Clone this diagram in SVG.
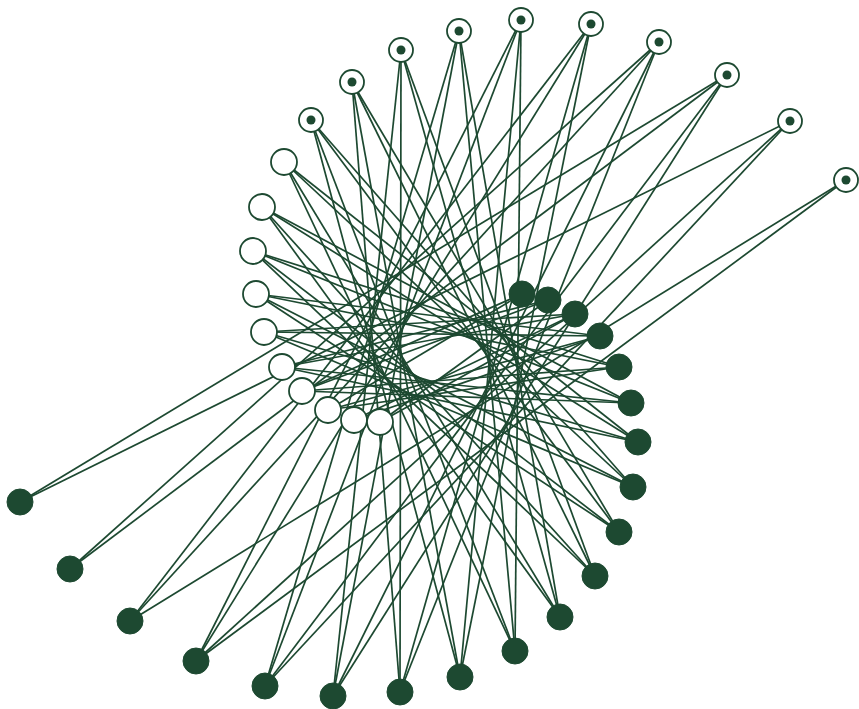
<svg xmlns="http://www.w3.org/2000/svg" width="859" height="709" viewBox="0 0 859 709">
<style>
.e line{stroke:#1d4931;stroke-width:1.7;fill:none}
.r{fill:#fff;stroke:#1d4931;stroke-width:1.8}
.w{fill:#fff;stroke:#1d4931;stroke-width:1.8}
.d{fill:#1d4931;stroke:#1d4931;stroke-width:1}
.c{fill:#1d4931}
</style>
<rect width="859" height="709" fill="#fff"/>
<g id="edges" class="e">
<line x1="380" y1="422" x2="548" y2="300"/>
<line x1="380" y1="422" x2="575" y2="314"/>
<line x1="354" y1="420" x2="575" y2="314"/>
<line x1="354" y1="420" x2="600" y2="336"/>
<line x1="328" y1="410" x2="600" y2="336"/>
<line x1="328" y1="410" x2="619" y2="367"/>
<line x1="328" y1="410" x2="522" y2="294"/>
<line x1="302" y1="391" x2="619" y2="367"/>
<line x1="302" y1="391" x2="631" y2="403"/>
<line x1="302" y1="391" x2="548" y2="300"/>
<line x1="302" y1="391" x2="522" y2="294"/>
<line x1="282" y1="367" x2="631" y2="403"/>
<line x1="282" y1="367" x2="638" y2="442"/>
<line x1="282" y1="367" x2="575" y2="314"/>
<line x1="282" y1="367" x2="548" y2="300"/>
<line x1="264" y1="332" x2="638" y2="442"/>
<line x1="264" y1="332" x2="633" y2="487"/>
<line x1="264" y1="332" x2="600" y2="336"/>
<line x1="264" y1="332" x2="575" y2="314"/>
<line x1="256" y1="294" x2="633" y2="487"/>
<line x1="256" y1="294" x2="619" y2="532"/>
<line x1="256" y1="294" x2="619" y2="367"/>
<line x1="256" y1="294" x2="600" y2="336"/>
<line x1="253" y1="251" x2="619" y2="532"/>
<line x1="253" y1="251" x2="595" y2="576"/>
<line x1="253" y1="251" x2="631" y2="403"/>
<line x1="253" y1="251" x2="619" y2="367"/>
<line x1="262" y1="207" x2="595" y2="576"/>
<line x1="262" y1="207" x2="560" y2="617"/>
<line x1="262" y1="207" x2="638" y2="442"/>
<line x1="262" y1="207" x2="631" y2="403"/>
<line x1="284" y1="162" x2="560" y2="617"/>
<line x1="284" y1="162" x2="515" y2="651"/>
<line x1="284" y1="162" x2="633" y2="487"/>
<line x1="284" y1="162" x2="638" y2="442"/>
<line x1="311" y1="120" x2="515" y2="651"/>
<line x1="311" y1="120" x2="460" y2="677"/>
<line x1="311" y1="120" x2="619" y2="532"/>
<line x1="311" y1="120" x2="633" y2="487"/>
<line x1="352" y1="82" x2="460" y2="677"/>
<line x1="352" y1="82" x2="400" y2="692"/>
<line x1="352" y1="82" x2="595" y2="576"/>
<line x1="352" y1="82" x2="619" y2="532"/>
<line x1="401" y1="50" x2="400" y2="692"/>
<line x1="401" y1="50" x2="333" y2="696"/>
<line x1="401" y1="50" x2="560" y2="617"/>
<line x1="401" y1="50" x2="595" y2="576"/>
<line x1="459" y1="31" x2="333" y2="696"/>
<line x1="459" y1="31" x2="265" y2="686"/>
<line x1="459" y1="31" x2="515" y2="651"/>
<line x1="459" y1="31" x2="560" y2="617"/>
<line x1="521" y1="20" x2="265" y2="686"/>
<line x1="521" y1="20" x2="196" y2="661"/>
<line x1="521" y1="20" x2="460" y2="677"/>
<line x1="521" y1="20" x2="515" y2="651"/>
<line x1="591" y1="24" x2="196" y2="661"/>
<line x1="591" y1="24" x2="130" y2="621"/>
<line x1="591" y1="24" x2="400" y2="692"/>
<line x1="591" y1="24" x2="460" y2="677"/>
<line x1="659" y1="42" x2="130" y2="621"/>
<line x1="659" y1="42" x2="70" y2="569"/>
<line x1="659" y1="42" x2="333" y2="696"/>
<line x1="659" y1="42" x2="400" y2="692"/>
<line x1="727" y1="75" x2="70" y2="569"/>
<line x1="727" y1="75" x2="20" y2="502"/>
<line x1="727" y1="75" x2="265" y2="686"/>
<line x1="727" y1="75" x2="333" y2="696"/>
<line x1="790" y1="121" x2="20" y2="502"/>
<line x1="790" y1="121" x2="196" y2="661"/>
<line x1="790" y1="121" x2="265" y2="686"/>
<line x1="846" y1="180" x2="130" y2="621"/>
<line x1="846" y1="180" x2="196" y2="661"/>
</g>
<g id="a19"><circle class="r" cx="846" cy="180" r="12"/><circle class="c" cx="846" cy="180" r="4.5"/></g>
<g id="a18"><circle class="r" cx="790" cy="121" r="12"/><circle class="c" cx="790" cy="121" r="4.5"/></g>
<g id="a17"><circle class="r" cx="727" cy="75" r="12"/><circle class="c" cx="727" cy="75" r="4.5"/></g>
<g id="a16"><circle class="r" cx="659" cy="42" r="12"/><circle class="c" cx="659" cy="42" r="4.5"/></g>
<g id="a15"><circle class="r" cx="591" cy="24" r="12"/><circle class="c" cx="591" cy="24" r="4.5"/></g>
<g id="a14"><circle class="r" cx="521" cy="20" r="12"/><circle class="c" cx="521" cy="20" r="4.5"/></g>
<g id="a13"><circle class="r" cx="459" cy="31" r="12"/><circle class="c" cx="459" cy="31" r="4.5"/></g>
<g id="a12"><circle class="r" cx="401" cy="50" r="12"/><circle class="c" cx="401" cy="50" r="4.5"/></g>
<g id="a11"><circle class="r" cx="352" cy="82" r="12"/><circle class="c" cx="352" cy="82" r="4.5"/></g>
<g id="a10"><circle class="r" cx="311" cy="120" r="12"/><circle class="c" cx="311" cy="120" r="4.5"/></g>
<g id="a9"><circle class="w" cx="284" cy="162" r="13"/></g>
<g id="a8"><circle class="w" cx="262" cy="207" r="13"/></g>
<g id="a7"><circle class="w" cx="253" cy="251" r="13"/></g>
<g id="a6"><circle class="w" cx="256" cy="294" r="13"/></g>
<g id="a5"><circle class="w" cx="264" cy="332" r="13"/></g>
<g id="a4"><circle class="w" cx="282" cy="367" r="13"/></g>
<g id="a3"><circle class="w" cx="302" cy="391" r="13"/></g>
<g id="a2"><circle class="w" cx="328" cy="410" r="13"/></g>
<g id="a1"><circle class="w" cx="354" cy="420" r="13"/></g>
<g id="a0"><circle class="w" cx="380" cy="422" r="13"/></g>
<g id="b0"><circle class="d" cx="522" cy="294" r="13"/></g>
<g id="b1"><circle class="d" cx="548" cy="300" r="13"/></g>
<g id="b2"><circle class="d" cx="575" cy="314" r="13"/></g>
<g id="b3"><circle class="d" cx="600" cy="336" r="13"/></g>
<g id="b4"><circle class="d" cx="619" cy="367" r="13"/></g>
<g id="b5"><circle class="d" cx="631" cy="403" r="13"/></g>
<g id="b6"><circle class="d" cx="638" cy="442" r="13"/></g>
<g id="b7"><circle class="d" cx="633" cy="487" r="13"/></g>
<g id="b8"><circle class="d" cx="619" cy="532" r="13"/></g>
<g id="b9"><circle class="d" cx="595" cy="576" r="13"/></g>
<g id="b10"><circle class="d" cx="560" cy="617" r="13"/></g>
<g id="b11"><circle class="d" cx="515" cy="651" r="13"/></g>
<g id="b12"><circle class="d" cx="460" cy="677" r="13"/></g>
<g id="b13"><circle class="d" cx="400" cy="692" r="13"/></g>
<g id="b14"><circle class="d" cx="333" cy="696" r="13"/></g>
<g id="b15"><circle class="d" cx="265" cy="686" r="13"/></g>
<g id="b16"><circle class="d" cx="196" cy="661" r="13"/></g>
<g id="b17"><circle class="d" cx="130" cy="621" r="13"/></g>
<g id="b18"><circle class="d" cx="70" cy="569" r="13"/></g>
<g id="b19"><circle class="d" cx="20" cy="502" r="13"/></g>
</svg>
